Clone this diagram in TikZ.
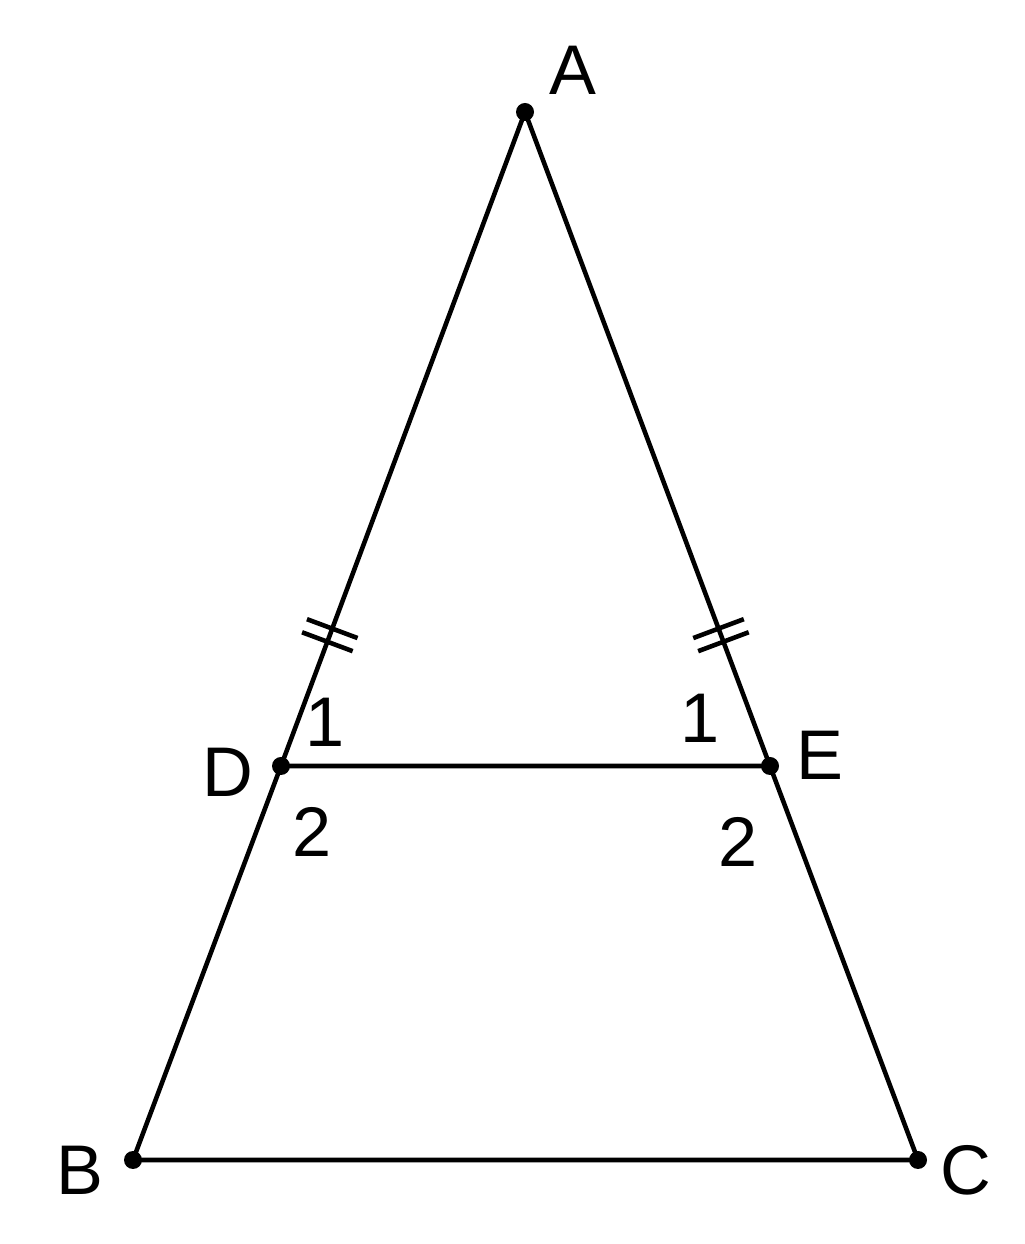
\documentclass[tikz,border=0pt]{standalone}
\usepackage{fontspec}
\setmainfont{Liberation Sans}
\usetikzlibrary{calc}
\usetikzlibrary{decorations.markings}
\begin{document}
\begin{tikzpicture}
    \tikzstyle{every node}=[font=\fontsize{20}{24}\selectfont,inner sep=0pt]
    \tikzstyle{side}=[line width=1.3pt]
    \tikzstyle{pt}=[fill=black,circle,minimum size=0.18cm]
    \tikzstyle{ticks}=[postaction={decorate,decoration={markings,
        mark=at position 0.8 with {\draw[line width=1.3pt] (-0.07,-0.27) -- (-0.07,0.27)
                                   (0.07,-0.27) -- (0.07,0.27);}}}]

    \useasboundingbox (0,0) rectangle (10.24,12.44);

    \coordinate (A) at (5.25,11.32);
    \coordinate (D) at (2.81,4.78);
    \coordinate (E) at (7.70,4.78);
    \coordinate (B) at (1.33,0.84);
    \coordinate (C) at (9.18,0.84);

    \draw[side,ticks] (A) -- (D);
    \draw[side,ticks] (A) -- (E);
    \draw[side] (D) -- (B) -- (C) -- (E) -- (D);

    \foreach \p in {A,B,C,D,E}
      \node[pt] (dot\p) at (\p) {};

    \node (labA) at (5.73,11.74) {A};
    \node (labB) at (0.80,0.74) {B};
    \node (labC) at (9.66,0.74) {C};
    \node (labD) at (2.28,4.72) {D};
    \node (labE) at (8.20,4.89) {E};

    \node (d1) at (3.25,5.22) {1};
    \node (d2) at (3.12,4.12) {2};
    \node (e1) at (7.00,5.26) {1};
    \node (e2) at (7.38,4.02) {2};
\end{tikzpicture}
\end{document}
